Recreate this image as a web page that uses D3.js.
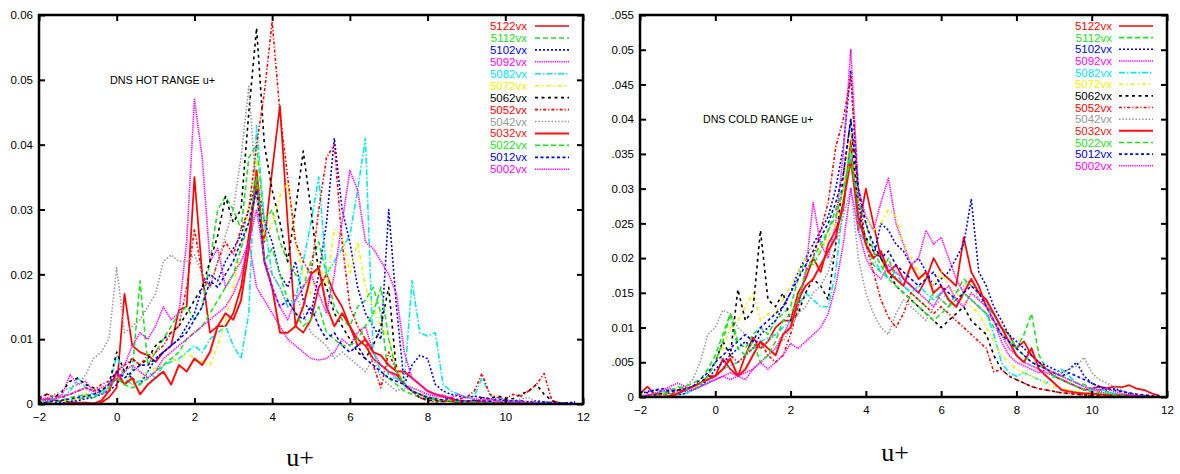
<!DOCTYPE html>
<html><head><meta charset="utf-8">
<script src="https://cdn.jsdelivr.net/npm/d3@7"></script>
<style>body{margin:0;background:#fff}svg{display:block}</style>
</head><body>
<svg id="c" width="1180" height="474"></svg>
<script>
// x grid (u+) shared by all series
const uPlus = [-2,-1.8,-1.6,-1.4,-1.2,-1,-0.8,-0.6,-0.4,-0.2,
 0,0.2,0.4,0.6,0.8,1,1.2,1.4,1.6,1.8,
 2,2.2,2.4,2.6,2.8,3,3.2,3.4,3.6,3.8,
 4,4.2,4.4,4.6,4.8,5,5.2,5.4,5.6,5.8,
 6,6.2,6.4,6.6,6.8,7,7.2,7.4,7.6,7.8,
 8,8.2,8.4,8.6,8.8,9,9.2,9.4,9.6,9.8,
 10,10.2,10.4,10.6,10.8,11,11.2,11.4,11.6,11.8];

const seriesNames = ["5122vx","5112vx","5102vx","5092vx","5082vx","5072vx","5062vx","5052vx","5042vx","5032vx","5022vx","5012vx","5002vx"];

// HOT range values, in units of 0.001
const hot5122 = [0.5,0.8,0.6,0.4,0.3,0.2,0.2,0.1,0.2,1.0, 2.5,17,9,8,7.5,6.5,8,9,14.5,15, 35,20,11,12,12,14,18,26,34,25, 36,46,28,12,11,13,18,20,17,15, 12,10,9,7,6,5,4.5,3,2,1.5, 1,0.8,0.5,0.4,0.3,0.2,0.2,0.2,0.1,0.1, 0.2,0.1,0.1,0.1,0,0,0,0,0,0];
const hot5112 = [0.2,0.3,0.5,0.4,0.6,0.8,1,1.2,1.5,2.5, 4,3,5,19,6,8,10,12,14,15, 13,15,22,30,32,30,27,38,40,28, 30,25,22,20,18,22,25,20,15,13, 12,15,16,18,14,4,3,2,1.5,1, 0.8,0.6,0.4,0.5,0.3,0.3,0.2,0.2,0.2,0.1, 0.3,0.2,0.1,0.1,0,0,0,0,0,0];
const hot5102 = [0.1,0.2,0.3,0.2,0.4,0.5,0.8,1,1.5,2, 3,5,4,3,5,7,8,9,10,12, 14,18,20,19,22,24,26,30,35,28, 25,20,18,22,16,14,20,28,41,30, 25,18,14,12,10,30,15,3,6,7.5, 7,3,2,1.5,1.2,1,1.2,1,0.8,0.5, 0.6,0.5,0.4,0.3,0.5,0.3,0.2,0.1,0.2,0.3];
const hot5092 = [0.5,1,0.8,1.5,4.5,3,3.5,2,1.5,2, 5,6,9,11,10,12,15,13,14,25, 47,38,22,24,18,20,22,25,18,16, 14,12,10,9,8,7,6.8,7,8,10, 9,11,12,8,6,5,4,3,2.5,2, 1.5,1.2,1,0.8,0.6,0.5,0.4,0.6,0.5,0.3, 0.2,0.3,0.2,0.1,0.1,0,0,0,0,0];
const hot5082 = [0.3,0.5,0.8,1,2,4,2.5,1.5,1.5,2.5, 7.5,4,3,3.5,5,4,6,6.5,7,8, 9,8,10,11,12,9,7,14,43,28, 20,18,15,16,22,28,35,20,22,24, 26,33,41,8,5,4,4,3,19,11, 10.5,11,3,2,1.5,1,1.2,4,1.5,0.5, 0.3,0.5,0.2,0.2,0.1,0.1,0,0,0,0];
const hot5072 = [0.5,0.3,0.2,0.4,0.6,1,1.5,2.5,2,3, 4,5,3,4,5,5.5,6,7,6.5,8, 7,6.5,6,9,13,18,24,30,38,25, 28,32,34,25,20,17,22,18,27,26, 20,25,18,15,12,10,6,3,2,1.5, 1,0.8,0.6,1,0.5,0.4,0.3,0.3,0.2,0.2, 0.1,0.1,0.1,0,0,0,0,0,0,0];
const hot5062 = [0.8,1.5,1,2,3.5,4,3,2.5,2,3, 8,5,7,6,7,9,10,11,12,14, 16,18,22,26,32,28,30,45,58,40, 33,28,22,30,39,30,20,18,14,12, 10,8,7,9,12,18,5,3,2,1, 0.6,0.5,0.4,0.5,0.3,0.5,0.4,1,0.8,1.2, 1,0.8,1.5,2,3,1.5,0.5,0.2,0,0];
const hot5052 = [1,1.5,1.2,1,1.5,2,2.5,2,3,3.5, 5,6,7,6,7.5,8,9,11,12,18, 27,20,18,22,25,23,27,30,40,48, 59,45,35,25,22,20,30,38,40,25, 15,12,10,6,2.5,8,5,3,2,1, 0.5,0.3,0.4,0.5,0.8,1,2,4.7,1.5,1, 0.8,1.5,1.2,2,3,4.7,0.5,0.2,0,0];
const hot5042 = [0.5,0.8,1.5,2,2.5,3,4.5,7,8,10, 21,11,12,13,15,17,22,23,22,22, 23,20,18,22,26,30,38,49,32,22, 20,18,15,17,14,11,10,9,7,8, 7,6,5,7,4,3,2,2.5,2,1.5, 1.2,1,1.5,0.8,0.6,0.5,0.4,0.5,0.6,0.4, 0.3,0.5,0.8,1,0.3,0.2,0,0,0,0];
const hot5032 = [0,0,0,0,0,0,0,0,0.5,2, 5,3,4,1.5,3,4,5,3,6,5, 7,6,8,12,14,13,16,24,36,22, 18,11,11,12,15,20,21,15,12,14, 12,9,10,8,7.5,6,5,5,4,3, 2,1.5,1.2,0.8,0.5,0.4,0.3,0.3,0.2,0.2, 0.1,0.1,0.1,0,0,0,0,0,0,0];
const hot5022 = [0.3,0.2,0.4,0.6,1,1.2,1.5,1,2,2.5, 4,3,2.5,3,4,5,6,7,8,10, 11,12,14,16,18,20,24,28,35,22, 24,20,16,14,12,13,15,11,10,9, 9,10,12,14,18,10,5,3,2,1.5, 1,0.8,0.6,0.5,0.4,0.3,0.3,0.2,0.2,0.1, 0.1,0.1,0,0,0,0,0,0,0,0];
const hot5012 = [0.2,0.3,0.5,0.6,0.8,1,1.2,1.5,2,3, 5,4,5,6,6,7,8,9,10,11, 13,15,19,18,20,22,25,28,33,22, 18,15,16,14,13,15,12,10,11,9, 8,9,7,6,5,4,3.5,3,2,1.5, 1,0.8,0.6,1,0.5,0.4,0.6,0.5,0.4,0.8, 0.6,0.4,0.5,0.3,0.2,0.3,0.2,0.1,0.2,0.2];
const hot5002 = [1,0.5,0.8,1.2,1.5,2,2.5,2,2.5,3, 4,5,6,5,4,5,7,8,9,10, 11,12,13,14,15,17,20,25,30,22, 18,15,13,16,18,20,17,14,20,28, 36,33,25,24,22,20,17,8,4,3, 2,1.5,1.2,1,1.5,1,0.8,0.6,0.8,0.5, 0.4,0.3,0.4,0.3,0.2,0.1,0.1,0,0,0];

// COLD range values, in units of 0.001
const cold5122 = [0.5,1.5,0.3,0,0,0.5,1,1.5,2,3, 3,5.5,4,3,6,8.6,7,8,10,11, 11,15,17,20,18,22,24,27,37,24, 30,25,20,18,19,17,16,15,17,20, 18,17,16,23,18,16,13,12,10,9, 7,8,6,5,4,3,2.5,2,1.5,1, 1.2,1.5,1.3,1.5,1.4,1.7,1.2,1,0.5,0.2];
const cold5112 = [0,0.2,0.3,0.5,1,1.2,1.5,2,2.5,4, 6,9,12,8,7,9,10,9,11,12, 13,17,20,19,21,24,27,30,36,25, 23,19,18,20,17,16,15,14,13,15, 14,13,15,17,16,15,14,11,10,9, 7,9,12,6,4,3.5,3,2.5,2,1.8, 1.2,1,0.8,0.5,0.3,0.2,0.1,0,0,0];
const cold5102 = [0.5,0.8,1,0.8,0.5,0.3,0.5,1,1.5,2.5, 4,5,6,7,8,7,9,10,11,13, 15,18,20,22,24,26,30,36,47,28, 22,20,25,24,22,21,19,20,18,16, 17,18,20,22,28.5,18,16,13,11,9, 8,7,6,5,4.5,4,3.5,4,5,3, 2,1.5,1,1.2,0.8,0.5,0.3,0.2,0.1,0];
const cold5092 = [0.2,0.3,0.5,0.8,1.2,1,0.8,1,1.5,2, 2.5,3,3.5,3,2.5,4,5,6,7,9, 11,13,18,28,22,20,25,35,50,30, 26,24,28,31.5,25,22,19,20,24,22, 23,20,17,15,14,13,12,11,9,7, 6,5,4.5,4,3.5,3,2.5,2,1.5,1.2, 1,0.8,0.5,0.4,0.3,0.2,0.1,0,0,0];
const cold5082 = [0,0.2,0.5,0.8,0.5,0.3,0.5,1,1.5,2, 3,4,4.5,5,6,7,8,8.5,9,10, 11,13,15,14,13,13,18,28,35,24, 22,20,18,17,18,16,15,16,15,14, 15,14,13,15,14,13,12,9,5,3.5, 3,3.5,3,2.5,2,3,4,3,2,1.5, 1,1.2,0.8,0.5,0.3,0.2,0.1,0,0,0];
const cold5072 = [0.5,0.3,0.2,0.5,0.8,1,1.5,1.2,2,3, 5,7,10,11,13,15,11,12,12,14, 16,18,20,22,21,23,25,30,38,28, 26,24,25,27,26,22,20,18,17,16, 18,16,15,14,13,12,10,8,6,5, 4,3.5,3,2.5,2,1.5,1.2,1,0.8,0.6, 0.5,0.4,0.3,0.2,0.1,0,0,0,0,0];
const cold5062 = [0,0.2,0.3,0.5,0.8,1,1.2,1.5,2,3, 5,8,6,15.5,11,12.5,24,14,13,15, 11,12,15,17,16,14,22,32,40,26, 23,21,20,18,16,15,14,13,12,11, 10,11,12,13,11,10,9,6,4,3, 2.5,2,1.5,1.2,1,0.8,0.6,0.5,0.4,0.3, 0.3,0.2,0.1,0,0,0,0,0,0,0];
const cold5052 = [0,0.2,0.5,0.3,0.5,0.8,1,1.5,2,2.5, 3,4,6,5,6,7,8,6,5,6, 9,13,18,20,24,28,36,40,46,30, 22,18,14,11.5,10,12,15,14,13,12, 13,12,11,10,9,8,7,3.6,4,3, 2.5,2,1.5,1.2,1,0.8,0.6,0.5,0.4,0.3, 0.2,0.1,0,0,0,0,0,0,0,0];
const cold5042 = [0,0.1,0.2,0.3,0.5,1,1.5,2.5,5,9, 10,12.5,12,10,9,8,7,8,9,8, 10,12,13,15,16,18,22,26,30,20, 15,12,10,9,12,14,13,12,11,13, 14,13,15,16,17,14,13,12,10,8, 6,5,4.5,4,3.5,3,3.5,4,4.5,5.7, 3.5,2.5,2,1.5,1,0.5,0.3,0.2,0,0];
const cold5032 = [0,0,0,0,0.2,0.5,1,1.5,2,2.5, 3,4,5.5,3,4,6,8,7,6,9, 10,14,16,17,19,21,23,28,34,26, 22,20,21,18,17,16,19,17,18,15, 16,14,13,15,17,15,14,12,10,8, 6,5,7,4,3,2,1,0.8,0.6,0.5, 0.5,0.4,0.3,0.3,0.2,0.2,0.1,0.1,0,0];
const cold5022 = [0,0,0,0.3,0.8,1.5,1.2,1,1.8,3, 5,8,12,7,6,8,5,6,8,11, 12,14,18,20,22,24,26,30,34,28, 25,21,19,17,16,15,14,13,12,11, 12,13,14,15,14,13,12,10,9,8, 7,6,5,4.5,4,3,2.5,2,1.5,1, 0.8,0.6,0.5,0.3,0.2,0.1,0,0,0,0];
const cold5012 = [0.8,0.6,1,1.2,0.8,1,1.2,1.5,2.5,3.5, 5,6,7,8,9,8,10,11,12,13, 15,17,19,21,23,25,28,32,40,30, 25,22,20,21,19,18,17,16,17,18, 16,15,14,15,16,15,13,11,9,8, 7,6,5,4.5,4,3.5,3,3.5,3,2.5, 2,1.5,1.2,1,0.8,0.6,0.4,0.3,0.2,0.1];
const cold5002 = [0,0.2,0.5,1,1.5,2,1.5,1,1.5,2, 2.5,3,2.5,3,3.5,4,5,4,5,6, 7.7,7,8,9,10,12,16,22,30,24, 20,18,17,19,18,17,16,15,14,13, 15,16,14,13,15,14,13,11,8,6, 5,4.5,4,3.5,4,3.5,3,2.5,2,1.5, 1.2,1,1.2,0.8,0.5,0.3,0.2,0.1,0,0];

const xTicks = [-2,0,2,4,6,8,10,12];
const hotYTicks = [0,10,20,30,40,50,60];
const hotYLabels = ["0","0.01","0.02","0.03","0.04","0.05","0.06"];
const coldYTicks = [0,5,10,15,20,25,30,35,40,45,50,55];
const coldYLabels = ["0",".005","0.01",".015","0.02",".025","0.03",".035","0.04",".045","0.05",".055"];

const hotSeries = [hot5122,hot5112,hot5102,hot5092,hot5082,hot5072,hot5062,hot5052,hot5042,hot5032,hot5022,hot5012,hot5002];
const coldSeries = [cold5122,cold5112,cold5102,cold5092,cold5082,cold5072,cold5062,cold5052,cold5042,cold5032,cold5022,cold5012,cold5002];

const styles = [
  {c:"#ff0000", d:null, w:1.7},
  {c:"#22e022", d:"5,3", w:1.6},
  {c:"#0000ff", d:"2,2", w:1.6},
  {c:"#ff00ff", d:"1.3,0.9", w:1.6},
  {c:"#00e8f0", d:"6,2,1.5,2", w:1.6},
  {c:"#f2f200", d:"4,3,1.5,3", w:1.6},
  {c:"#000000", d:"3,3.5", w:1.6},
  {c:"#ff0000", d:"3,2,1.2,2", w:1.6},
  {c:"#999999", d:"1.5,1.8", w:1.6},
  {c:"#ff1010", d:null, w:2},
  {c:"#22e022", d:"5,3", w:1.6},
  {c:"#0000ff", d:"3,2.5", w:1.6},
  {c:"#ff00ff", d:"1.3,0.9", w:1.6}
];

const svg = d3.select("#c");
const font = "'Liberation Sans', Arial, sans-serif";

function drawChart(cfg) {
  const x = d3.scaleLinear().domain([-2,12]).range([cfg.left, cfg.right]);
  const y = d3.scaleLinear().domain([0, cfg.ymax]).range([cfg.bottom, cfg.top]);
  const g = svg.append("g");
  const clipId = "clip" + cfg.id;
  svg.append("clipPath").attr("id", clipId).append("rect")
    .attr("x", cfg.left).attr("y", cfg.top).attr("width", cfg.right-cfg.left).attr("height", cfg.bottom-cfg.top);

  const line = d3.line().x((d,i)=>x(uPlus[i])).y(d=>y(d));
  const lg = g.append("g").attr("clip-path", `url(#${clipId})`);
  cfg.series.forEach((s,k)=>{
    const st = styles[k];
    lg.append("path").attr("d", line(s)).attr("fill","none")
      .attr("stroke", st.c).attr("stroke-width", st.w)
      .attr("stroke-dasharray", st.d).attr("stroke-linejoin","round");
  });

  // axes with inward ticks
  const ax = (sel)=>{ sel.select(".domain").remove(); sel.selectAll(".tick line").attr("stroke","#000").attr("stroke-width",2); sel.selectAll("text").attr("font-family",font).attr("font-size",11.5).attr("fill","#000"); };
  g.append("g").attr("transform",`translate(0,${cfg.bottom})`)
    .call(d3.axisBottom(x).tickValues(xTicks).tickFormat(d3.format("d")).tickSize(-6).tickPadding(9)).call(ax);
  g.append("g").attr("transform",`translate(0,${cfg.top})`)
    .call(d3.axisTop(x).tickValues(xTicks).tickFormat("").tickSize(-6)).call(ax);
  g.append("g").attr("transform",`translate(${cfg.left},0)`)
    .call(d3.axisLeft(y).tickValues(cfg.yTicks).tickFormat((d,i)=>cfg.yLabels[i]).tickSize(-6).tickPadding(6)).call(ax);
  g.append("g").attr("transform",`translate(${cfg.right},0)`)
    .call(d3.axisRight(y).tickValues(cfg.yTicks).tickFormat("").tickSize(-6)).call(ax);

  g.append("rect").attr("x",cfg.left).attr("y",cfg.top).attr("width",cfg.right-cfg.left).attr("height",cfg.bottom-cfg.top)
    .attr("fill","none").attr("stroke","#000").attr("stroke-width",2.5);

  // title
  g.append("text").attr("x",cfg.titleX).attr("y",cfg.titleY).text(cfg.title)
    .attr("font-family",font).attr("font-size",cfg.titleSize).attr("fill","#000");

  // legend
  seriesNames.forEach((n,k)=>{
    const yy = cfg.legTop + k*cfg.legStep;
    const st = styles[k];
    g.append("text").attr("x",cfg.legTextX).attr("y",yy).attr("dy","0.35em").attr("text-anchor","end")
      .attr("font-family",font).attr("font-size",11.5).attr("fill",st.c).text(n);
    g.append("line").attr("x1",cfg.legLine[0]).attr("x2",cfg.legLine[1]).attr("y1",yy).attr("y2",yy)
      .attr("stroke",st.c).attr("stroke-width",st.w).attr("stroke-dasharray",st.d);
  });

  // x label
  g.append("text").attr("x",cfg.labelX).attr("y",cfg.labelY).attr("text-anchor","middle")
    .attr("font-family","'Liberation Serif','Times New Roman',serif").attr("font-size",26).attr("fill","#000").text("u+");
}

drawChart({id:"h", left:39, right:583, top:15, bottom:404, ymax:60, yTicks:hotYTicks, yLabels:hotYLabels,
  series:hotSeries, title:"DNS HOT RANGE u+", titleX:110, titleY:84, titleSize:10.8,
  legTop:26, legStep:11.94, legTextX:527, legLine:[535,569], labelX:300, labelY:466});
drawChart({id:"c", left:640, right:1167, top:15, bottom:397, ymax:55, yTicks:coldYTicks, yLabels:coldYLabels,
  series:coldSeries, title:"DNS COLD RANGE u+", titleX:703, titleY:123, titleSize:10.6,
  legTop:26, legStep:11.65, legTextX:1112, legLine:[1119,1153], labelX:895, labelY:461});
</script>
</body></html>
